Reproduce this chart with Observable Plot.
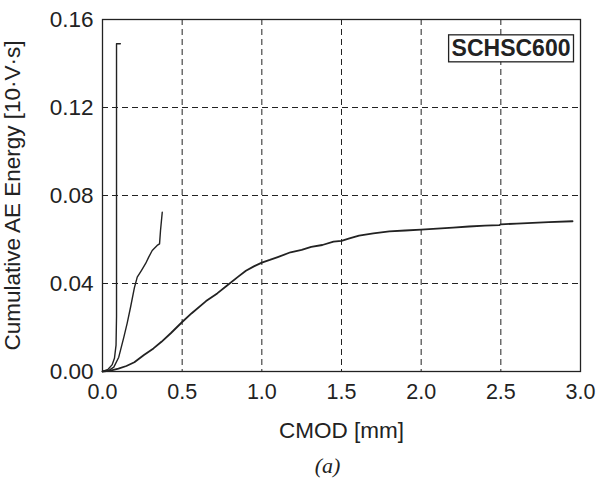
<!DOCTYPE html>
<html>
<head>
<meta charset="utf-8">
<script src="https://cdn.jsdelivr.net/npm/d3@7"></script>
<script src="https://cdn.jsdelivr.net/npm/@observablehq/plot@0.6"></script>
<style>
  body { margin: 0; background: #fff; }
  #wrap { position: relative; width: 597px; height: 479px; }
  #caption { position: absolute; left: 0; top: 453px; width: 655px; text-align: center;
    font-family: "Liberation Serif", serif; font-style: italic; font-size: 22px; color: #222; }
</style>
</head>
<body>
<div id="wrap"><div id="chart"></div><div id="caption">(a)</div></div>
<script>
const cmod1 = [0, 0.035, 0.06, 0.075, 0.085, 0.088, 0.088, 0.112];
const energy1 = [0, 0.001, 0.003, 0.006, 0.012, 0.025, 0.149, 0.149];

const cmod2 = [0, 0.04, 0.071, 0.102, 0.134, 0.155, 0.176, 0.2, 0.218, 0.245, 0.27, 0.29, 0.312, 0.343, 0.358, 0.364, 0.375];
const energy2 = [0, 0.0005, 0.002, 0.0065, 0.0156, 0.022, 0.0292, 0.038, 0.0429, 0.046, 0.049, 0.052, 0.055, 0.0573, 0.058, 0.064, 0.0724];

const cmod3 = [0, 0.05, 0.1, 0.15, 0.2, 0.26, 0.32, 0.37, 0.43, 0.5, 0.56, 0.65, 0.72, 0.78, 0.85, 0.9, 0.95, 1.0, 1.05, 1.1, 1.18, 1.25, 1.31, 1.38, 1.45, 1.5, 1.55, 1.61, 1.7, 1.8, 1.9, 2.0, 2.1, 2.2, 2.3, 2.4, 2.49, 2.5, 2.6, 2.7, 2.8, 2.95];
const energy3 = [0, 0.0004, 0.0013, 0.0025, 0.0042, 0.0075, 0.0105, 0.0135, 0.0175, 0.0225, 0.0265, 0.032, 0.0355, 0.039, 0.043, 0.0458, 0.0478, 0.0495, 0.0507, 0.052, 0.0542, 0.0553, 0.0566, 0.0575, 0.059, 0.0594, 0.0605, 0.0618, 0.0628, 0.0637, 0.0641, 0.0645, 0.0649, 0.0654, 0.0659, 0.0663, 0.0665, 0.0669, 0.0672, 0.0676, 0.0679, 0.0683];

const xTicks = [0, 0.5, 1.0, 1.5, 2.0, 2.5, 3.0];
const yTicks = [0, 0.04, 0.08, 0.12, 0.16];
const xLabel = "CMOD [mm]";
const yLabel = "Cumulative AE Energy [10·V·s]";
const specimen = "SCHSC600";

const toRows = (xs, ys) => xs.map((x, i) => ({x, y: ys[i]}));
const s1 = toRows(cmod1, energy1);
const s2 = toRows(cmod2, energy2);
const s3 = toRows(cmod3, energy3);

const ink = "#222";
const chart = Plot.plot({
  width: 597,
  height: 445,
  marginLeft: 102,
  marginRight: 17,
  marginTop: 19,
  marginBottom: 74,
  style: {fontFamily: "'Liberation Sans', Arial, sans-serif", fontSize: "22px", color: ink, background: "#fff"},
  x: {domain: [0, 3], ticks: xTicks},
  y: {domain: [0, 0.16], ticks: yTicks},
  marks: [
    Plot.gridX(xTicks.slice(1, -1), {stroke: ink, strokeOpacity: 1, strokeDasharray: "6,4", strokeWidth: 1}),
    Plot.gridY(yTicks.slice(1, -1), {stroke: ink, strokeOpacity: 1, strokeDasharray: "6,4", strokeWidth: 1}),
    Plot.axisX(xTicks, {tickSize: 0, tickPadding: 12, tickFormat: d3.format(".1f"), label: null, fontSize: 21.5}),
    Plot.axisY(yTicks, {tickSize: 0, tickPadding: 9, tickFormat: d3.format(".2f"), label: null, fontSize: 22.5}),
    Plot.axisX({label: xLabel, ticks: [], tickSize: 0, labelAnchor: "center", labelArrow: "none", labelOffset: 66, fontSize: 22.5}),
    Plot.axisY({label: yLabel, ticks: [], tickSize: 0, labelAnchor: "center", labelArrow: "none", labelOffset: 98, fontSize: 22.5}),
    Plot.line(s1, {x: "x", y: "y", stroke: ink, strokeWidth: 1.4}),
    Plot.line(s2, {x: "x", y: "y", stroke: ink, strokeWidth: 1.4}),
    Plot.line(s3, {x: "x", y: "y", stroke: ink, strokeWidth: 1.8}),
    Plot.frame({stroke: ink, strokeWidth: 1.3}),
    Plot.text([specimen], {frameAnchor: "top-right", dx: -10, dy: 20, text: d => d, fontWeight: "bold", fontSize: 23, fill: ink, textAnchor: "end", className: "spec"})
  ]
});
document.getElementById("chart").appendChild(chart);

// box around specimen label
const t = chart.querySelector(".spec text");
if (t) {
  const b = t.getBBox();
  const ns = "http://www.w3.org/2000/svg";
  const r = document.createElementNS(ns, "rect");
  r.setAttribute("x", b.x - 3);
  r.setAttribute("y", b.y);
  r.setAttribute("width", b.width + 6);
  r.setAttribute("height", b.height + 1);
  r.setAttribute("fill", "#fff");
  r.setAttribute("stroke", ink);
  r.setAttribute("stroke-width", 1.3);
  const g = t.parentNode;
  const tr = g.getAttribute("transform");
  if (tr) r.setAttribute("transform", tr);
  if (t.getAttribute("transform")) r.setAttribute("transform", (tr ? tr + " " : "") + t.getAttribute("transform"));
  g.parentNode.insertBefore(r, g);
}
</script>
</body>
</html>
